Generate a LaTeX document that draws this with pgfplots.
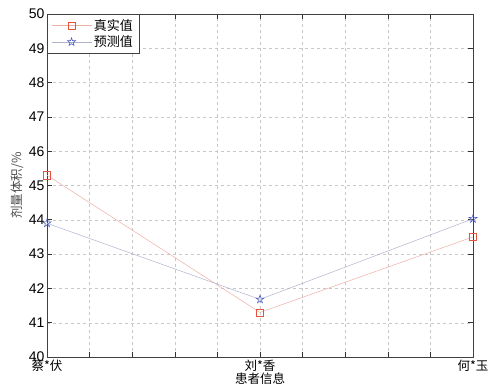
\documentclass[border=0pt]{standalone}
\usepackage{pgfplots}
\pgfplotsset{compat=1.18}
\usepackage{fontspec}
\setmainfont{Liberation Sans}
\newfontfamily\cjk{Noto Sans CJK SC}
\definecolor{redline}{RGB}{238,175,165}
\definecolor{redmark}{RGB}{228,85,60}
\definecolor{blueline}{RGB}{175,180,205}
\definecolor{bluemark}{RGB}{60,80,190}
\definecolor{gridc}{RGB}{200,200,200}
\pgfdeclareplotmark{pentagram}{%
 \pgfpathmoveto{\pgfqpointpolar{90}{\pgfplotmarksize}}%
 \pgfpathlineto{\pgfqpointpolar{126}{0.382\pgfplotmarksize}}%
 \pgfpathlineto{\pgfqpointpolar{162}{\pgfplotmarksize}}%
 \pgfpathlineto{\pgfqpointpolar{198}{0.382\pgfplotmarksize}}%
 \pgfpathlineto{\pgfqpointpolar{234}{\pgfplotmarksize}}%
 \pgfpathlineto{\pgfqpointpolar{270}{0.382\pgfplotmarksize}}%
 \pgfpathlineto{\pgfqpointpolar{306}{\pgfplotmarksize}}%
 \pgfpathlineto{\pgfqpointpolar{342}{0.382\pgfplotmarksize}}%
 \pgfpathlineto{\pgfqpointpolar{18}{\pgfplotmarksize}}%
 \pgfpathlineto{\pgfqpointpolar{54}{0.382\pgfplotmarksize}}%
 \pgfpathclose\pgfusepathqstroke}
\begin{document}
\begin{tikzpicture}
\begin{axis}[
  scale only axis,
  width=426pt, height=343pt,
  xmin=1, xmax=3, ymin=40, ymax=50,
  xtick={1,1.2,1.4,1.6,1.8,2,2.2,2.4,2.6,2.8,3},
  xticklabels={{\cjk 蔡*伏},,,,,{\cjk 刘*香},,,,,{\cjk 何*玉}},
  ytick={40,41,...,50},
  /pgf/number format/assume math mode=true,
  tick label style={font=\fontsize{14}{15}\selectfont},
  yticklabel style={xshift=1pt},
  xticklabel style={font=\cjk\fontsize{12.5}{13}\selectfont, yshift=1pt},
  tick align=inside,
  major tick length=5pt,
  tick style={black!80, line width=0.6pt},
  axis line style={black!75, line width=0.7pt},
  grid=major,
  major grid style={gridc, dashed, line width=0.4pt},
  xlabel={\cjk 患者信息},
  ylabel={\cjk 剂量体积/\%},
  xlabel style={font=\fontsize{12.5}{13}\selectfont, yshift=5pt},
  ylabel style={font=\fontsize{12.5}{13}\selectfont, text=black!70, yshift=-2pt},
  legend style={at={(0,1)}, anchor=north west, font=\cjk\fontsize{13}{14}\selectfont,
    draw=black!75, line width=0.6pt, inner xsep=4pt, inner ysep=3pt, row sep=0pt, cells={anchor=west}},
  legend cell align=left,
  legend image code/.code={\draw[mark repeat=2,mark phase=2,#1] plot coordinates {(0pt,0pt) (20pt,0pt) (40pt,0pt)};},
]
\addplot[redline, line width=0.5pt, mark=square, mark size=3.6pt,
  mark options={draw=redmark, line width=0.6pt, fill=none}]
  coordinates {(1,45.3) (2,41.3) (3,43.5)};
\addlegendentry{真实值}
\addplot[blueline, line width=0.5pt, mark=pentagram, mark size=4.2pt,
  mark options={draw=bluemark, line width=0.5pt, fill=none}]
  coordinates {(1,43.9) (2,41.68) (3,44.03)};
\addlegendentry{预测值}
\end{axis}
\pgfresetboundingbox
\useasboundingbox ([xshift=-47pt,yshift=-31pt]current axis.south west) rectangle ([xshift=16pt,yshift=14pt]current axis.north east);
\end{tikzpicture}
\end{document}
